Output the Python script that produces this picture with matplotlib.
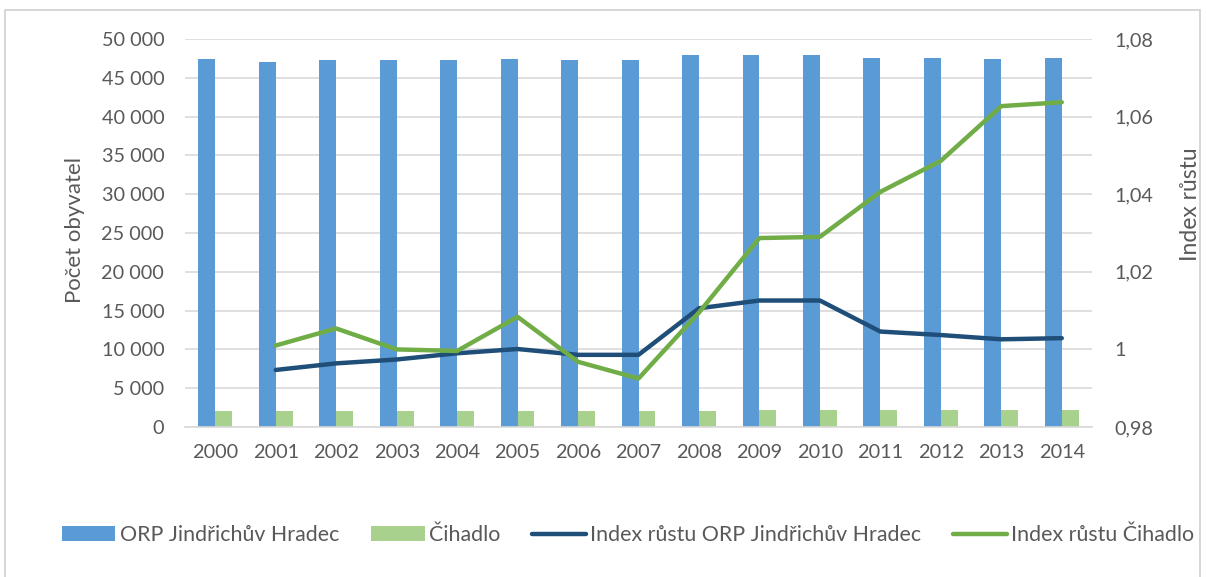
import matplotlib
matplotlib.use("Agg")
import matplotlib.pyplot as plt
from matplotlib.patches import Rectangle
import numpy as np

years = ["2000", "2001", "2002", "2003", "2004", "2005", "2006", "2007",
         "2008", "2009", "2010", "2011", "2012", "2013", "2014"]
orp_pop = [47400, 47100, 47250, 47250, 47250, 47400, 47250, 47250,
           47900, 47900, 47900, 47600, 47600, 47400, 47600]
cihadlo_pop = [2050, 2050, 2050, 2050, 2050, 2050, 2050, 2050,
               2060, 2200, 2200, 2200, 2200, 2200, 2200]
orp_index = [None, 0.9947, 0.9964, 0.9974, 0.9990, 1.0001, 0.9986, 0.9986,
             1.0106, 1.0126, 1.0126, 1.0046, 1.0037, 1.0026, 1.0029]
cihadlo_index = [None, 1.0010, 1.0054, 1.0000, 0.9996, 1.0084, 0.9968, 0.9925,
                 1.0095, 1.0287, 1.0290, 1.0406, 1.0486, 1.0627, 1.0637]
left_ticks = [0, 5000, 10000, 15000, 20000, 25000, 30000, 35000, 40000, 45000, 50000]
left_labels = ["0", "5 000", "10 000", "15 000", "20 000", "25 000", "30 000",
               "35 000", "40 000", "45 000", "50 000"]
right_ticks = [0.98, 1.00, 1.02, 1.04, 1.06, 1.08]
right_labels = ["0,98", "1", "1,02", "1,04", "1,06", "1,08"]

labels = ["ORP Jindřichův Hradec", "Čihadlo",
          "Index růstu ORP Jindřichův Hradec", "Index růstu Čihadlo"]

C_BLUE = "#5B9BD5"
C_LGREEN = "#A9D18E"
C_DARK = "#1F4E79"
C_GREEN = "#70AD47"
C_TEXT = "#595959"
C_GRID = "#D9D9D9"

plt.rcParams['font.family'] = ['Lato', 'DejaVu Sans']

fig = plt.figure(figsize=(12.06, 5.77), dpi=100)
ax = fig.add_axes([185/1206, 1-427/577, 907/1206, 388/577])
ax2 = ax.twinx()

x = np.arange(len(years))
w = 0.28
b1 = ax.bar(x - w/2, orp_pop, width=w, color=C_BLUE, label=labels[0], zorder=2)
b2 = ax.bar(x + w/2, cihadlo_pop, width=w, color=C_LGREEN, label=labels[1], zorder=2)

xi = x[1:]
l1, = ax2.plot(xi, orp_index[1:], color=C_DARK, lw=3.2, label=labels[2],
               solid_capstyle='round', solid_joinstyle='round')
l2, = ax2.plot(xi, cihadlo_index[1:], color=C_GREEN, lw=3.2, label=labels[3],
               solid_capstyle='round', solid_joinstyle='round')

ax.set_xlim(-0.5, len(years) - 0.5)
ax.set_ylim(0, 50000)
ax2.set_ylim(0.98, 1.08)
ax.set_yticks(left_ticks)
ax.set_yticklabels(left_labels)
ax2.set_yticks(right_ticks)
ax2.set_yticklabels(right_labels)
ax.set_xticks(x)
ax.set_xticklabels(years)

for a in (ax, ax2):
    for s in a.spines.values():
        s.set_visible(False)
    a.tick_params(length=0, colors=C_TEXT, labelsize=14.3)
ax.tick_params(axis='y', pad=15)
ax2.tick_params(axis='y', pad=16)
ax.tick_params(axis='x', pad=12)
ax.spines['bottom'].set_visible(True)
ax.spines['bottom'].set_color(C_GRID)
ax.spines['bottom'].set_linewidth(1.2)
ax.set_axisbelow(True)
ax.yaxis.grid(True, color=C_GRID, lw=1.2)

ax.set_ylabel("Počet obyvatel", color=C_TEXT, fontsize=16)
ax.yaxis.set_label_coords((75 - 185) / 907, (427 - 230) / 388)
ax.yaxis.label.set_verticalalignment('center')
ax2.set_ylabel("Index růstu", color=C_TEXT, fontsize=16.5)
ax2.yaxis.set_label_coords((1190 - 185) / 907, (427 - 204) / 388)
ax2.yaxis.label.set_verticalalignment('center')

leg = fig.legend(handles=[b1, b2, l1, l2], labels=labels, loc='center',
                 bbox_to_anchor=(628/1206, 1-535/577), ncol=4, frameon=False,
                 fontsize=15.4, handlelength=2.5, handleheight=0.7,
                 columnspacing=1.5, handletextpad=0.2)
for t in leg.get_texts():
    t.set_color(C_TEXT)

fig.patches.append(Rectangle((5/1206, -0.01), 1195/1206, 1 - 10/577 + 0.01,
                             transform=fig.transFigure, fill=False,
                             edgecolor="#D0D0D0", lw=1.2))

fig.savefig("out.png", dpi=100)
